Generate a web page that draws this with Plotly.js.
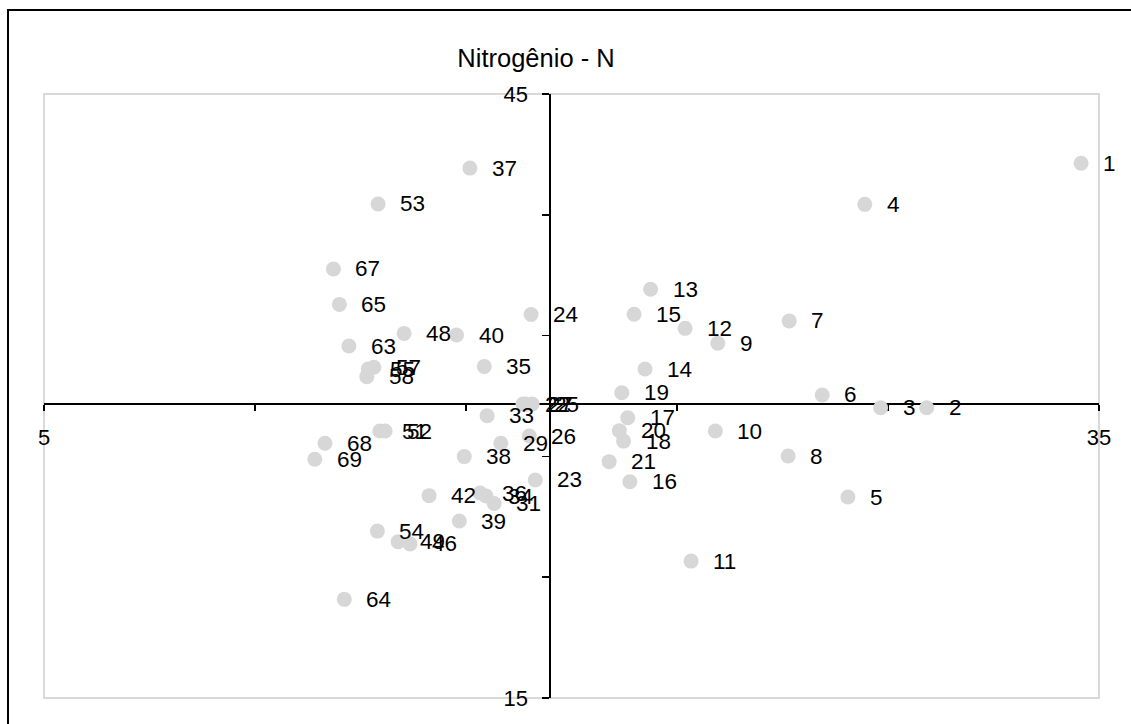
<!DOCTYPE html>
<html>
<head>
<meta charset="utf-8">
<script src="https://cdn.plot.ly/plotly-3.0.1.min.js"></script>
<style>html,body{margin:0;padding:0;background:#fff;}#chart{width:1131px;height:724px;}</style>
</head>
<body>
<div id="chart"></div>
<script>
// Point labels (sample ids)
const ids = [1,2,3,4,5,6,7,8,9,10,11,12,13,14,15,16,17,18,19,20,21,22,23,24,25,26,27,29,31,33,34,35,36,37,38,39,40,42,46,48,49,51,52,53,54,55,57,58,63,64,65,67,68,69];
// X values
const xVals = [34.49,30.10,28.79,28.34,27.86,27.13,26.19,26.16,24.16,24.09,23.40,23.23,22.25,22.09,21.78,21.66,21.60,21.48,21.43,21.36,21.07,18.62,18.97,18.85,18.88,18.80,18.70,17.99,17.80,17.60,17.57,17.52,17.40,17.11,16.95,16.81,16.73,15.95,15.41,15.24,15.07,14.55,14.70,14.50,14.48,14.22,14.38,14.18,13.67,13.54,13.40,13.23,12.99,12.70];
// Y values
const yVals = [41.56,29.42,29.42,39.52,24.98,30.05,33.73,27.02,32.62,28.26,21.80,33.36,35.30,31.34,34.06,25.74,28.92,27.76,30.16,28.28,26.74,29.60,25.83,34.05,29.60,28.01,29.60,27.65,24.66,29.02,25.03,31.47,25.18,41.32,26.99,23.79,33.03,25.05,22.65,33.11,22.76,28.26,28.26,39.54,23.29,31.34,31.43,30.96,32.48,19.90,34.55,36.31,27.65,26.86];

const xTicks = [5,11,17,23,29,35];
const xTickText = ['5','','','','','35'];
const yTicks = [15,21,27,33,39,45];
const yTickText = ['15','','','','','45'];
const xRange = [5,35];
const yRange = [15,45];
const xCross = 19.40;
const yCross = 29.60;

const FONT = '"Liberation Sans", Arial, Helvetica, sans-serif';

const trace = {
  type: 'scatter',
  mode: 'markers',
  x: xVals,
  y: yVals,
  marker: {color: '#d7d7d7', size: 15, line: {width: 0}},
  hoverinfo: 'skip',
  cliponaxis: false
};

const annotations = ids.map((id, i) => ({
  x: xVals[i], y: yVals[i], xref: 'x', yref: 'y',
  text: String(id), showarrow: false,
  xanchor: 'left', yanchor: 'middle', xshift: 20, yshift: 0,
  font: {family: FONT, size: 22.5, color: '#000'}
}));

const layout = {
  width: 1131, height: 724,
  margin: {l: 44, r: 32, t: 94, b: 26, pad: 0},
  paper_bgcolor: '#fff', plot_bgcolor: '#fff',
  showlegend: false,
  font: {family: FONT, size: 22, color: '#000'},
  title: {
    text: 'Nitrogênio - N',
    font: {family: FONT, size: 25.5, color: '#000'},
    xref: 'container', x: 536/1131, xanchor: 'center',
    yref: 'container', y: 1 - 58/724, yanchor: 'middle'
  },
  xaxis: {
    range: xRange, autorange: false,
    anchor: 'free', position: (yCross - yRange[0]) / (yRange[1] - yRange[0]),
    showgrid: false, zeroline: false,
    showline: true, linecolor: '#000', linewidth: 2,
    ticks: 'outside', ticklen: 6, tickwidth: 1.5, tickcolor: '#000',
    tickmode: 'array', tickvals: xTicks, ticktext: xTickText,
    ticklabelstandoff: 8,
    tickfont: {family: FONT, size: 22, color: '#000'},
    layer: 'below traces', fixedrange: true
  },
  yaxis: {
    range: yRange, autorange: false,
    anchor: 'free', position: (xCross - xRange[0]) / (xRange[1] - xRange[0]),
    side: 'left',
    showgrid: false, zeroline: false,
    showline: true, linecolor: '#000', linewidth: 2,
    ticks: 'outside', ticklen: 7, tickwidth: 1.5, tickcolor: '#000',
    tickmode: 'array', tickvals: yTicks, ticktext: yTickText,
    ticklabelstandoff: 10,
    tickfont: {family: FONT, size: 22, color: '#000'},
    layer: 'below traces', fixedrange: true
  },
  shapes: [
    {type: 'rect', xref: 'paper', yref: 'paper', x0: 0, x1: 1, y0: 0, y1: 1,
     line: {color: '#d9d9d9', width: 2}, fillcolor: 'rgba(0,0,0,0)', layer: 'below'},
    {type: 'rect', xref: 'paper', yref: 'paper',
     x0: (8 - 44) / 1055, x1: (1150 - 44) / 1055,
     y0: (698 - 740) / 604, y1: (698 - 10) / 604,
     line: {color: '#000', width: 2}, fillcolor: 'rgba(0,0,0,0)', layer: 'below'}
  ],
  annotations: annotations
};

Plotly.newPlot('chart', [trace], layout, {staticPlot: true, displayModeBar: false});
</script>
</body>
</html>
